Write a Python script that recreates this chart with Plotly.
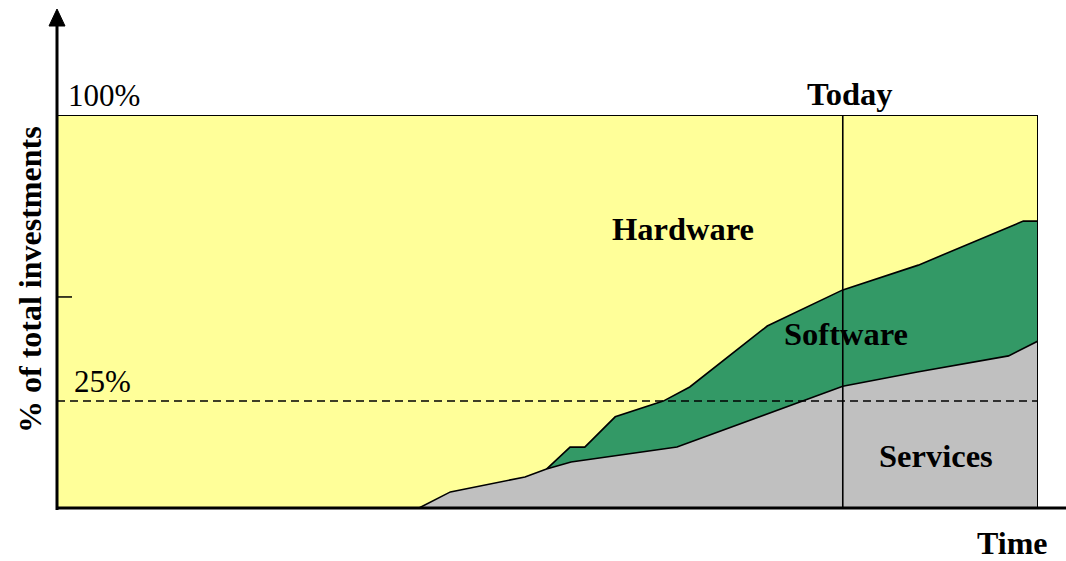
import plotly.graph_objects as go

# ---- data (time in % of span, share in % of total investments) ----
services_t = [0, 36.9, 40.1, 47.7, 49.9, 52.4, 63.2, 72.4, 80.1, 87.7, 97.0, 100]
services_v = [0, 0, 4.1, 7.9, 9.9, 11.7, 15.5, 23.9, 31.0, 34.6, 38.7, 42.5]
software_top_t = [49.9, 52.3, 53.8, 56.9, 61.8, 64.5, 72.4, 78.5, 80.1, 87.8, 98.5, 100]
software_top_v = [9.9, 15.5, 15.5, 23.2, 27.2, 30.8, 46.3, 53.7, 55.5, 61.8, 73.0, 73.0]
hardware_t = [0, 100]
hardware_v = [100, 100]
today_t = 80.1
ref_line_v = 27.2
mid_tick_v = 53.7

YELLOW = "#FFFF99"
GREEN = "#339966"
GRAY = "#C0C0C0"
FONT = "Liberation Serif"

W, H = 1066, 561
L, R, T, B = 57, 1038, 115, 508


def px(x):
    return (x - L) / (R - L)


def py(y):
    return (B - y) / (B - T)


fig = go.Figure()
fig.add_trace(go.Scatter(x=hardware_t, y=hardware_v, mode="lines", fill="tozeroy",
                         fillcolor=YELLOW, line=dict(width=0), hoverinfo="skip"))
fig.add_trace(go.Scatter(x=software_top_t, y=software_top_v, mode="lines", fill="tozeroy",
                         fillcolor=GREEN, line=dict(color="black", width=1.6), hoverinfo="skip"))
fig.add_trace(go.Scatter(x=services_t, y=services_v, mode="lines", fill="tozeroy",
                         fillcolor=GRAY, line=dict(color="black", width=1.6), hoverinfo="skip"))

shapes = []
# reference dashed line
shapes.append(dict(type="line", xref="x", yref="y", x0=0, x1=100, y0=ref_line_v, y1=ref_line_v,
                   line=dict(color="black", width=1.5, dash="8px,5px")))
# today line
shapes.append(dict(type="line", xref="x", yref="y", x0=today_t, x1=today_t, y0=0, y1=100,
                   line=dict(color="black", width=1.6)))
# box outline
shapes.append(dict(type="rect", xref="x", yref="y", x0=0, x1=100, y0=0, y1=100,
                   line=dict(color="black", width=2)))
# mid tick
shapes.append(dict(type="line", xref="paper", yref="y", x0=0, x1=px(72), y0=mid_tick_v, y1=mid_tick_v,
                   line=dict(color="black", width=1.5)))
# y axis with arrow
shapes.append(dict(type="line", xref="paper", yref="paper", x0=0, x1=0, y0=py(510), y1=py(24),
                   line=dict(color="black", width=3)))
shapes.append(dict(type="path", xref="paper", yref="paper",
                   path=f"M {px(49)} {py(26)} L {px(65)} {py(26)} L {px(57)} {py(9)} Z",
                   fillcolor="black", line=dict(color="black", width=1)))
# x axis
shapes.append(dict(type="line", xref="paper", yref="paper", x0=0, x1=px(1066), y0=0, y1=0,
                   line=dict(color="black", width=3)))

ann = []


def label(text, x, y, bold=False, size=31, angle=0, height=None):
    d = dict(text=f"<b>{text}</b>" if bold else text, x=px(x), y=py(y),
             xref="paper", yref="paper", showarrow=False, xanchor="center",
             yanchor="middle", textangle=angle,
             font=dict(family=FONT, size=size, color="black"))
    if height:
        d["height"] = height
    ann.append(d)


label("100%", 104, 96)
label("25%", 102, 381)
label("Today", 850, 94, bold=True, size=32.5)
label("Hardware", 683, 229, bold=True, size=32.5)
label("Software", 846, 334, bold=True, size=32.5)
label("Services", 936, 456, bold=True, size=32.5)
label("Time", 1012, 543, bold=True, size=32, height=26)
label("% of total investments", 30, 280, bold=True, size=32, angle=-90)

fig.update_layout(
    width=W, height=H,
    margin=dict(l=L, r=W - R, t=T, b=H - B, pad=0),
    paper_bgcolor="white", plot_bgcolor="white",
    showlegend=False,
    xaxis=dict(range=[0, 100], visible=False, fixedrange=True),
    yaxis=dict(range=[0, 100], visible=False, fixedrange=True),
    shapes=shapes, annotations=ann,
)
fig.write_html("out.html", config={"displayModeBar": False})
